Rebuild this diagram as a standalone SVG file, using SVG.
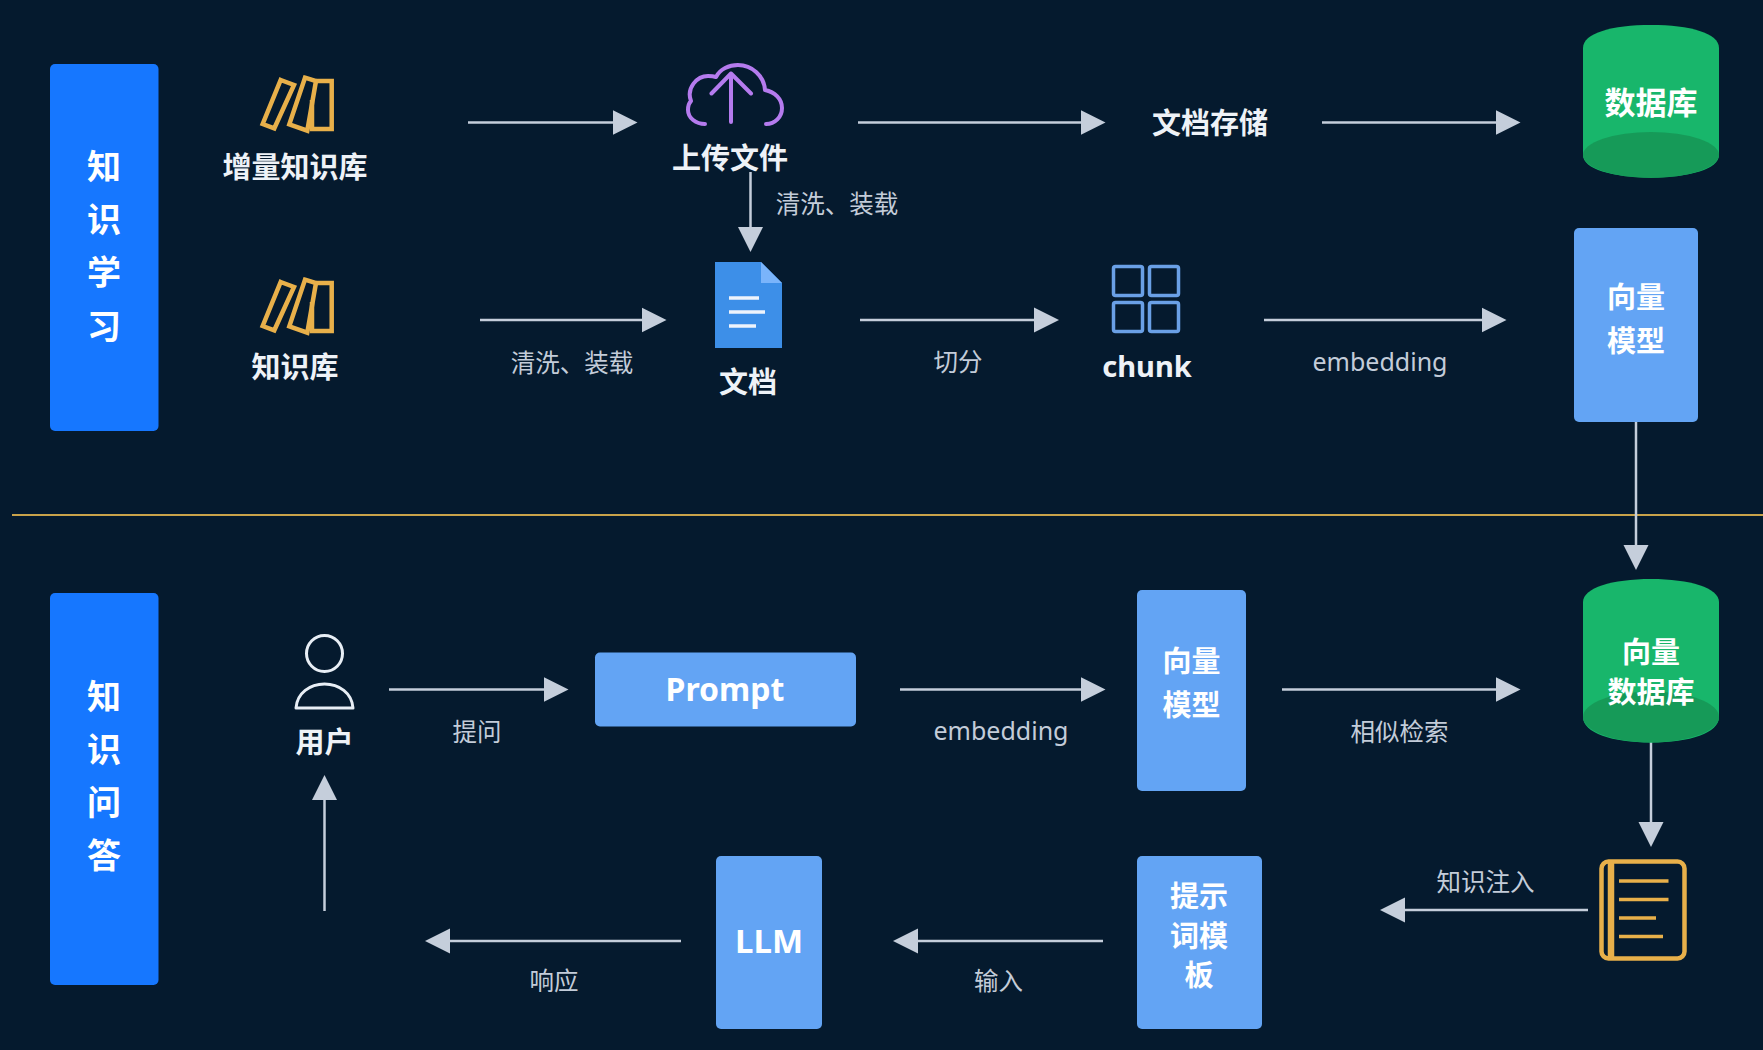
<svg xmlns="http://www.w3.org/2000/svg" width="1763" height="1050" viewBox="0 0 1763 1050">
<style>
text{font-family:"Noto Sans CJK SC","Noto Sans",sans-serif;text-anchor:middle;dominant-baseline:central}
.t{font-weight:700;fill:#eef2f7;font-size:29px}
.w{font-weight:700;fill:#fff;font-size:29px}
.s{font-weight:700;fill:#fff;font-size:34px}
.l{font-size:24.500px;fill:#c3ccd9}
.bar{fill:#1677ff}
.box{fill:#63a4f4}
.c{stroke:#c5cedb;stroke-width:2.500;fill:none;marker-end:url(#a)}
.gold{fill:none;stroke:#e8b04a;stroke-width:4.500;stroke-linejoin:miter}
.g{fill:#18b66b}.gd{fill:#169a58}
.en{font-family:"Noto Sans","Open Sans",sans-serif}
</style>
<defs>
<marker id="a" markerUnits="userSpaceOnUse" markerWidth="26" markerHeight="26" refX="1" refY="13" orient="auto"><path d="M0 .5L25 13L0 25.500z" fill="#c5cedb"/></marker>
<g id="books"><path class="gold" d="M280.700 80L294 85L274.300 128.300L262.700 124z"/><path class="gold" d="M305 77.700L316 81L307.300 130.700L289.300 124.300z"/><path class="gold" d="M316 81H331.700V129H312V100"/></g>
</defs>
<rect width="1763" height="1050" fill="#051a2e"/>
<line id="divider" x1="12" y1="515" x2="1763" y2="515" stroke="#c9a24a" stroke-width="2"/>
<g id="connectors">
<line class="c" x1="468" y1="122.500" x2="613.500" y2="122.500"/>
<line class="c" x1="858" y1="122.500" x2="1081.500" y2="122.500"/>
<line class="c" x1="1322" y1="122.500" x2="1496.500" y2="122.500"/>
<line class="c" x1="750.500" y1="172" x2="750.500" y2="228"/>
<line class="c" x1="480" y1="320" x2="642.500" y2="320"/>
<line class="c" x1="860" y1="320" x2="1035" y2="320"/>
<line class="c" x1="1264" y1="320" x2="1482.500" y2="320"/>
<line class="c" x1="1636" y1="422" x2="1636" y2="546"/>
<line class="c" x1="389" y1="689.500" x2="544.500" y2="689.500"/>
<line class="c" x1="900" y1="689.500" x2="1081.500" y2="689.500"/>
<line class="c" x1="1282" y1="689.500" x2="1496.500" y2="689.500"/>
<line class="c" x1="1651" y1="740" x2="1651" y2="823"/>
<line class="c" x1="1588" y1="910" x2="1404" y2="910"/>
<line class="c" x1="1103" y1="941" x2="917" y2="941"/>
<line class="c" x1="681" y1="941" x2="449" y2="941"/>
<line class="c" x1="324.500" y1="911" x2="324.500" y2="799"/>
</g>
<g id="edge-labels">
<text class="l" x="837" y="202">清洗、装载</text>
<text class="l" x="572" y="361">清洗、装载</text>
<text class="l" x="958" y="360">切分</text>
<text class="l en" x="1380" y="361" style="font-size:25px">embedding</text>
<text class="l" x="477" y="730">提问</text>
<text class="l en" x="1001" y="730" style="font-size:25px">embedding</text>
<text class="l" x="1399.500" y="730">相似检索</text>
<text class="l" x="1485.500" y="880">知识注入</text>
<text class="l" x="998.500" y="979.500">输入</text>
<text class="l" x="554" y="979.500">响应</text>
</g>
<g id="learn-bar"><rect class="bar" x="50" y="64" width="108.500" height="367" rx="5"/>
<text class="s" x="104" y="164.500">知</text><text class="s" x="104" y="217">识</text><text class="s" x="104" y="270">学</text><text class="s" x="104" y="324">习</text></g>
<g id="qa-bar"><rect class="bar" x="50" y="593" width="108.500" height="392" rx="5"/>
<text class="s" x="104" y="694">知</text><text class="s" x="104" y="747">识</text><text class="s" x="104" y="800.500">问</text><text class="s" x="104" y="853.500">答</text></g>
<g id="inc-kb"><use href="#books"/><text class="t" x="295" y="165">增量知识库</text></g>
<g id="kb"><use href="#books" y="202"/><text class="t" x="295" y="365">知识库</text></g>
<g id="upload">
<path d="M705 124C696 124 688 118 688 110C688 106 689 103 691 101C686 88 697 76 708 76C711 76 713 76 716 77C720 69 729 65 738 65C752 65 764 76 765 90C775 92 782 99 782 108C782 117 775 124 766 124M731 122V73.500M711.500 93.500L731 73.500L751 93.500" fill="none" stroke="#b57bee" stroke-width="4" stroke-linecap="round" stroke-linejoin="round"/>
<text class="t" x="730" y="156">上传文件</text></g>
<g id="doc-store"><text class="t" x="1210" y="121">文档存储</text></g>
<g id="db"><path class="g" d="M1583 48C1583 33 1612 25 1651 25C1690 25 1719 33 1719 48V155C1719 169 1690 177.500 1651 177.500C1612 177.500 1583 169 1583 155z"/>
<ellipse class="gd" cx="1651" cy="155" rx="68" ry="23"/><text class="w" x="1651" y="100" style="font-size:31px">数据库</text></g>
<g id="doc"><path d="M715 262H761L782 283V348H715z" fill="#3d8fe8"/><path d="M761 262L782 283H761z" fill="#7ab4fb"/>
<path d="M729 298H759M729 312H765M729 326H756" stroke="#eef4fc" stroke-width="3.500" fill="none"/>
<text class="t" x="748" y="380">文档</text></g>
<g id="chunk"><g fill="none" stroke="#6aa0e6" stroke-width="3.500"><rect x="1113.500" y="266.500" width="29" height="29" rx="2"/><rect x="1149.500" y="266.500" width="29" height="29" rx="2"/><rect x="1113.500" y="302.500" width="29" height="29" rx="2"/><rect x="1149.500" y="302.500" width="29" height="29" rx="2"/></g>
<text class="t en" x="1147" y="365" style="font-size:29px">chunk</text></g>
<g id="vec-model-1"><rect class="box" x="1574" y="228" width="124" height="194" rx="5"/><text class="w" x="1636" y="295">向量</text><text class="w" x="1636" y="338.500">模型</text></g>
<g id="user"><circle cx="324.500" cy="653.500" r="18" fill="none" stroke="#e8eef5" stroke-width="3"/><path d="M296 708C297 693 310 684 324.500 684C339 684 352 693 353 708z" fill="none" stroke="#e8eef5" stroke-width="3" stroke-linejoin="round"/>
<text class="t" x="324.500" y="740">用户</text></g>
<g id="prompt"><rect class="box" x="595" y="652.500" width="261" height="74" rx="5"/><text class="w en" x="725" y="688" style="font-size:32px">Prompt</text></g>
<g id="vec-model-2"><rect class="box" x="1137" y="590" width="109" height="201" rx="5"/><text class="w" x="1191.500" y="659">向量</text><text class="w" x="1191.500" y="703">模型</text></g>
<g id="vec-db"><path class="g" d="M1583 602C1583 588 1612 579 1651 579C1690 579 1719 588 1719 602V717C1719 733 1690 742.500 1651 742.500C1612 742.500 1583 733 1583 717z"/>
<ellipse class="gd" cx="1651" cy="717" rx="68" ry="25.500"/><text class="w" x="1651" y="650">向量</text><text class="w" x="1651" y="690">数据库</text></g>
<g id="note"><rect class="gold" x="1601.500" y="861.500" width="83" height="97" rx="7"/><path d="M1611 861V958" fill="none" stroke="#e8b04a" stroke-width="6.500"/>
<path d="M1619 881H1668.500M1619 899.500H1668.500M1619 918H1656M1619 936.500H1663" fill="none" stroke="#e8b04a" stroke-width="3.500"/></g>
<g id="template"><rect class="box" x="1137" y="856" width="125" height="173" rx="5"/><text class="w" x="1199" y="894">提示</text><text class="w" x="1199" y="933.500">词模</text><text class="w" x="1199" y="973">板</text></g>
<g id="llm"><rect class="box" x="716" y="856" width="106" height="173" rx="5"/><text class="w en" x="769" y="940" style="font-size:33px">LLM</text></g>
</svg>
